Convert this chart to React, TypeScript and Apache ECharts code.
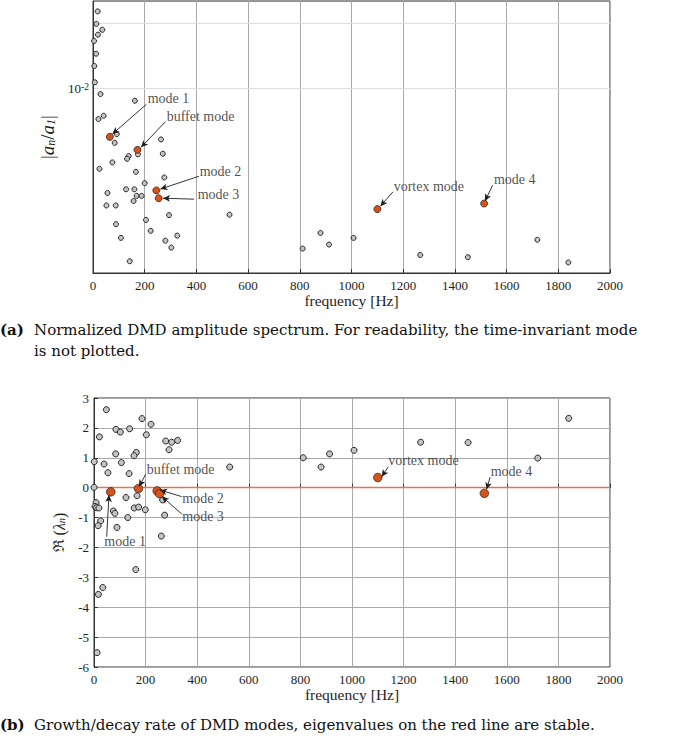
import React, { useEffect, useRef } from 'react';
import * as echarts from 'echarts';

// ---------- (a) amplitude spectrum: ordinary modes ----------
const ampFreq = [18, 13, 36, 19, 4, 12, 5, 7, 29, 162, 41, 21, 92, 84, 263, 270, 174, 138, 132, 75, 25, 166, 276, 200, 128, 160, 56, 169, 188, 157, 52, 88, 294, 528, 89, 205, 223, 108, 326, 280, 303, 142, 104, 811, 880, 913, 1008, 1266, 1450, 1719, 1839];
const ampVal = [0.0226, 0.0198, 0.0186, 0.01766, 0.01652, 0.01443, 0.01267, 0.01066, 0.00941, 0.00877, 0.00748, 0.00722, 0.00616, 0.00561, 0.00582, 0.0050, 0.00497, 0.00488, 0.00474, 0.00456, 0.00426, 0.00413, 0.00389, 0.00366, 0.00343, 0.00343, 0.0033, 0.0032, 0.0032, 0.00303, 0.00289, 0.00289, 0.00261, 0.00262, 0.00237, 0.00248, 0.00221, 0.00205, 0.0021, 0.00199, 0.00185, 0.0016, 0.00141, 0.00183, 0.00216, 0.00191, 0.00205, 0.00171, 0.00167, 0.00201, 0.00158];

// ---------- (b) growth/decay rate: ordinary modes ----------
const reFreq = [48, 21, 1, 39, 54, 0, 85, 102, 84, 106, 138, 136, 164, 155, 186, 203, 221, 278, 301, 324, 291, 526, 167, 266, 274, 261, 124, 156, 173, 199, 131, 75, 81, 89, 8, 4, 10, 19, 26, 16, 162, 34, 17, 12, 811, 880, 913, 1008, 1266, 1450, 1720, 1840];
const reVal = [2.61, 1.7, 0.87, 0.79, 0.5, 0.01, 1.95, 1.86, 1.13, 0.84, 1.97, 0.47, 1.18, 1.07, 2.31, 1.77, 2.12, 1.56, 1.52, 1.58, 1.27, 0.69, -0.27, -0.41, -0.92, -1.62, -0.33, -0.68, -0.65, -0.74, -1.0, -0.78, -0.86, -1.33, -0.5, -0.63, -0.67, -0.68, -1.11, -1.27, -2.74, -3.34, -3.57, -5.52, 1.0, 0.69, 1.13, 1.25, 1.52, 1.51, 0.99, 2.32];

// ---------- highlighted modes ----------
const modeNames = ['mode 1', 'buffet mode', 'mode 2', 'mode 3', 'vortex mode', 'mode 4'];
const modeFreq = [65, 172, 245, 254, 1100, 1513];
const modeAmp = [0.00598, 0.00521, 0.00339, 0.00312, 0.00278, 0.00295];
const modeRe = [-0.14, -0.03, -0.11, -0.2, 0.34, -0.19];

// log-axis minor grid values and axis ranges
const minorGrid = [0.002, 0.003, 0.004, 0.005, 0.006, 0.007, 0.008, 0.009, 0.02];
const ampRange = [0.001413, 0.02523];
const reRange = [-6, 3];
const freqRange = [0, 2000];

// annotation anchors, in data coordinates: [label(left-middle), arrow tail, arrow head]
const annoTopLabel = [[211.6, 0.00897], [285, 0.0074], [412.8, 0.00416], [405, 0.00324], [1163, 0.00352], [1551, 0.00382]];
const annoTopTail = [[206.6, 0.00844], [280, 0.00702], [410, 0.00394], [390.7, 0.00309], [1160.5, 0.00334], [1546, 0.00358]];
const annoTopHead = [[75, 0.00616], [185.7, 0.00535], [260.7, 0.00344], [270.8, 0.00312], [1111.8, 0.00287], [1516.4, 0.00303]];
const annoBotLabel = [[40, -1.806], [204.3, 0.615], [342, -0.355], [342, -0.98], [1140.7, 0.893], [1537.6, 0.535]];
const annoBotTail = [[49.2, -1.64], [200.4, 0.448], [340, -0.3], [340, -0.88], [1140.7, 0.7], [1535, 0.348]];
const annoBotHead = [[58.1, -0.244], [174.4, 0.033], [255.8, -0.077], [263.6, -0.3], [1115, 0.368], [1522, -0.054]];

const SERIF = 'Liberation Serif';
const CAP = 'DejaVu Serif';
const INK = '#1e1e1e';
const GRIDC = '#a9a9a9';
const ORANGE = '#d95319';

function xAxisFor(gridIndex: number) {
  return {
    gridIndex,
    type: 'value',
    min: freqRange[0],
    max: freqRange[1],
    interval: 200,
    name: 'frequency [Hz]',
    nameLocation: 'middle',
    nameGap: 19,
    nameTextStyle: { fontFamily: SERIF, fontSize: 15.5, color: INK },
    axisLine: { show: true, lineStyle: { color: '#333', width: 1 } },
    axisTick: { show: true, inside: true, length: 4, lineStyle: { color: '#333' } },
    axisLabel: { fontFamily: SERIF, fontSize: 13, color: INK, margin: 6, formatter: (v: number) => String(v) },
    splitLine: { show: true, lineStyle: { color: GRIDC, width: 1 } },
  };
}

export default function App() {
  const ref = useRef<HTMLDivElement>(null);
  useEffect(() => {
    if (!ref.current) return;
    const chart = echarts.init(ref.current, undefined, { renderer: 'svg' });

    const labelSeries = (xi: number, labels: number[][]) => ({
      type: 'scatter',
      xAxisIndex: xi,
      yAxisIndex: xi,
      silent: true,
      symbolSize: 0,
      itemStyle: { color: 'rgba(0,0,0,0)' },
      z: 6,
      data: labels.map((p, i) => ({ name: modeNames[i], value: p })),
      label: {
        show: true,
        position: 'right',
        distance: 0,
        formatter: '{b}',
        fontFamily: SERIF,
        fontSize: 14,
        color: INK,
      },
    });
    const arrowSeries = (xi: number, tails: number[][], heads: number[][]) => ({
      type: 'scatter',
      xAxisIndex: xi,
      yAxisIndex: xi,
      silent: true,
      data: [],
      markLine: {
        silent: true,
        z: 6,
        symbol: ['none', 'arrow'],
        symbolSize: [5, 7],
        label: { show: false },
        lineStyle: { color: INK, width: 0.9, type: 'solid' },
        data: tails.map((t, i) => [{ coord: t }, { coord: heads[i] }]),
      },
    });

    const option: any = {
      animation: false,
      backgroundColor: '#fff',
      grid: [
        { left: 93, width: 517, top: 1, height: 272, show: true, borderColor: '#333', borderWidth: 1, backgroundColor: 'transparent' },
        { left: 94, width: 516, top: 398, height: 269, show: true, borderColor: '#333', borderWidth: 1, backgroundColor: 'transparent' },
      ],
      xAxis: [xAxisFor(0), xAxisFor(1)],
      yAxis: [
        {
          gridIndex: 0,
          type: 'log',
          logBase: 10,
          min: ampRange[0],
          max: ampRange[1],
          name: '|{i|a}{s|n}/{i|a}{s|1}|',
          nameLocation: 'middle',
          nameGap: 25,
          nameRotate: 90,
          nameTextStyle: {
            fontFamily: SERIF,
            fontSize: 19,
            color: INK,
            rich: {
              i: { fontFamily: SERIF, fontSize: 19, fontStyle: 'italic', color: INK },
              s: { fontFamily: SERIF, fontSize: 12, fontStyle: 'italic', color: INK, verticalAlign: 'bottom', lineHeight: 14 },
            },
          },
          axisLine: { show: true, lineStyle: { color: '#333' } },
          axisTick: { show: false },
          axisLabel: {
            fontFamily: SERIF,
            fontSize: 13,
            color: INK,
            margin: 4,
            showMinLabel: false,
            showMaxLabel: false,
            formatter: (v: number) => (Math.abs(Math.log10(v) + 2) < 1e-6 ? '10{sup|-2}' : ''),
            rich: { sup: { fontFamily: SERIF, fontSize: 9.5, color: INK, verticalAlign: 'top', lineHeight: 8 } },
          },
          splitLine: { show: true, lineStyle: { color: '#8f8f8f', width: 1 } },
        },
        {
          gridIndex: 1,
          type: 'value',
          min: reRange[0],
          max: reRange[1],
          interval: 1,
          name: '{r|ℜ} ({i|λ}{s|n})',
          nameLocation: 'middle',
          nameGap: 19,
          nameRotate: 90,
          nameTextStyle: {
            fontFamily: SERIF,
            fontSize: 16,
            color: INK,
            rich: {
              r: { fontFamily: 'DejaVu Serif', fontSize: 15, color: INK },
              i: { fontFamily: SERIF, fontSize: 16, fontStyle: 'italic', color: INK },
              s: { fontFamily: SERIF, fontSize: 10.5, fontStyle: 'italic', color: INK, verticalAlign: 'bottom', lineHeight: 12 },
            },
          },
          axisLine: { show: true, lineStyle: { color: '#333' } },
          axisTick: { show: true, inside: true, length: 4, lineStyle: { color: '#333' } },
          axisLabel: { fontFamily: SERIF, fontSize: 13, color: INK, margin: 5 },
          splitLine: { show: true, lineStyle: { color: GRIDC, width: 1 } },
        },
      ],
      series: [
        // minor log grid lines (top)
        {
          type: 'scatter',
          xAxisIndex: 0,
          yAxisIndex: 0,
          silent: true,
          data: [],
          markLine: {
            silent: true,
            z: 0,
            symbol: ['none', 'none'],
            label: { show: false },
            lineStyle: { color: '#dedede', width: 1, type: 'solid' },
            data: minorGrid.map((v) => ({ yAxis: v })),
          },
        },
        // stability line (bottom)
        {
          type: 'scatter',
          xAxisIndex: 1,
          yAxisIndex: 1,
          silent: true,
          data: [],
          markLine: {
            silent: true,
            z: 1,
            symbol: ['none', 'none'],
            label: { show: false },
            lineStyle: { color: '#e8734f', width: 1.3, type: 'solid' },
            data: [{ yAxis: 0 }],
          },
        },
        {
          name: 'modes',
          type: 'scatter',
          xAxisIndex: 0,
          yAxisIndex: 0,
          symbolSize: 5,
          z: 3,
          itemStyle: { color: '#c4c4c4', borderColor: '#262626', borderWidth: 1, opacity: 1 },
          data: ampFreq.map((f, i) => [f, ampVal[i]]),
        },
        {
          name: 'selected',
          type: 'scatter',
          xAxisIndex: 0,
          yAxisIndex: 0,
          symbolSize: 7,
          z: 4,
          itemStyle: { color: ORANGE, borderColor: '#262626', borderWidth: 0.8, opacity: 1 },
          data: modeFreq.map((f, i) => [f, modeAmp[i]]),
        },
        {
          name: 'modesB',
          type: 'scatter',
          xAxisIndex: 1,
          yAxisIndex: 1,
          symbolSize: 6,
          z: 3,
          itemStyle: { color: '#c4c4c4', borderColor: '#262626', borderWidth: 1, opacity: 1 },
          data: reFreq.map((f, i) => [f, reVal[i]]),
        },
        {
          name: 'selectedB',
          type: 'scatter',
          xAxisIndex: 1,
          yAxisIndex: 1,
          symbolSize: 8.5,
          z: 4,
          itemStyle: { color: ORANGE, borderColor: '#262626', borderWidth: 0.8, opacity: 1 },
          data: modeFreq.map((f, i) => [f, modeRe[i]]),
        },
        arrowSeries(0, annoTopTail, annoTopHead),
        arrowSeries(1, annoBotTail, annoBotHead),
        labelSeries(0, annoTopLabel),
        labelSeries(1, annoBotLabel),
      ],
      graphic: [
        {
          type: 'text',
          x: 0,
          y: 319.5,
          style: { text: '(a)', fontFamily: CAP, fontWeight: 'bold', fontSize: 15, lineHeight: 21, fill: '#111', verticalAlign: 'top' },
        },
        {
          type: 'text',
          x: 34,
          y: 319.5,
          style: {
            text: 'Normalized DMD amplitude spectrum. For readability, the time-invariant mode\nis not plotted.',
            fontFamily: CAP,
            fontSize: 15,
            lineHeight: 21,
            fill: '#111',
            verticalAlign: 'top',
          },
        },
        {
          type: 'text',
          x: 0,
          y: 714.5,
          style: { text: '(b)', fontFamily: CAP, fontWeight: 'bold', fontSize: 15, lineHeight: 21, fill: '#111', verticalAlign: 'top' },
        },
        {
          type: 'text',
          x: 34,
          y: 714.5,
          style: {
            text: 'Growth/decay rate of DMD modes, eigenvalues on the red line are stable.',
            fontFamily: CAP,
            fontSize: 15,
            lineHeight: 21,
            fill: '#111',
            verticalAlign: 'top',
          },
        },
      ],
    };
    chart.setOption(option);
    return () => chart.dispose();
  }, []);

  return <div ref={ref} style={{ position: 'absolute', left: 0, top: 0, width: 685, height: 736 }} />;
}
